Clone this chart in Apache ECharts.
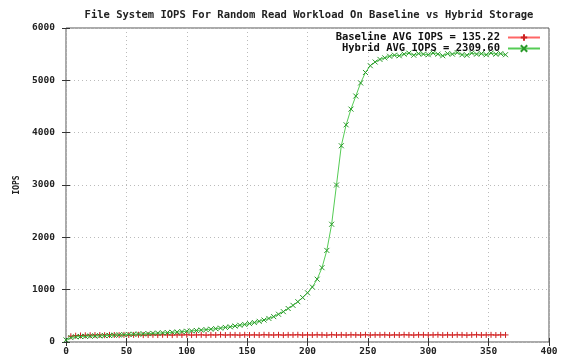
<!DOCTYPE html>
<html>
<head>
<meta charset="utf-8">
<script src="https://cdn.jsdelivr.net/npm/echarts@6/dist/echarts.min.js"></script>
<style>html,body{margin:0;padding:0;background:#fff}#c{width:563px;height:363px}</style>
</head>
<body>
<div id="c"></div>
<script>
const titleText = 'File System IOPS For Random Read Workload On Baseline vs Hybrid Storage';
const yName = 'IOPS';
const baselineName = 'Baseline AVG IOPS = 135.22';
const hybridName = 'Hybrid AVG IOPS = 2309.60';

const hybridX = [0,4,8,12,16,20,24,28,32,36,40,44,48,52,56,60,64,68,72,76,80,84,88,92,96,100,104,108,112,116,120,124,128,132,136,140,144,148,152,156,160,164,168,172,176,180,184,188,192,196,200,204,208,212,216,220,224,228,232,236,240,244,248,252,256,260,264,268,272,276,280,284,288,292,296,300,304,308,312,316,320,324,328,332,336,340,344,348,352,356,360,364];
const hybridY = [40,85,100,105,108,112,115,118,122,125,130,135,140,145,148,152,156,160,165,170,175,180,185,190,198,205,212,220,228,236,245,255,265,278,290,305,320,335,352,372,395,420,450,485,530,580,640,700,770,850,940,1050,1200,1420,1750,2250,3000,3750,4150,4450,4700,4950,5150,5280,5350,5400,5430,5460,5480,5470,5500,5520,5480,5510,5500,5490,5520,5500,5470,5510,5500,5530,5490,5480,5520,5500,5510,5490,5520,5500,5510,5490];

const baselineX = [4,8,12,16,20,24,28,32,36,40,44,48,52,56,60,64,68,72,76,80,84,88,92,96,100,104,108,112,116,120,124,128,132,136,140,144,148,152,156,160,164,168,172,176,180,184,188,192,196,200,204,208,212,216,220,224,228,232,236,240,244,248,252,256,260,264,268,272,276,280,284,288,292,296,300,304,308,312,316,320,324,328,332,336,340,344,348,352,356,360,364];
const baselineY = [110,120,125,128,130,132,133,130,135,134,131,136,133,135,138,132,134,136,133,137,135,132,136,134,138,133,135,137,132,136,134,139,133,136,135,132,137,134,136,133,138,135,134,137,132,136,135,138,133,136,134,137,135,132,138,134,136,133,137,135,134,138,133,136,135,137,132,136,134,138,135,133,137,136,134,135,138,133,136,134,137,135,132,136,138,134,135,137,133,136,135];

const xTicks = {min: 0, max: 400, interval: 50};
const yTicks = {min: 0, max: 6000, interval: 1000};

const font = 'DejaVu Sans Mono';
const plusPath = 'path://M0,5L10,5M5,0L5,10';
const crossPath = 'path://M0,0L10,10M10,0L0,10';

const chart = echarts.init(document.getElementById('c'));
const gridLine = {show: true, lineStyle: {color: '#bbbbbb', type: [1, 3], width: 1}};
chart.setOption({
  animation: false,
  backgroundColor: '#ffffff',
  title: {
    text: titleText, left: 304, top: 5, textAlign: 'center',
    textStyle: {fontFamily: font, fontSize: 10.5, fontWeight: 'bold', color: '#222'}
  },
  legend: {
    right: 22, top: 32, orient: 'vertical', align: 'right', itemGap: 0, padding: 0,
    itemWidth: 32, itemHeight: 8,
    textStyle: {fontFamily: font, fontSize: 10.5, lineHeight: 10, fontWeight: 'bold', color: '#111', padding: [0, 3, 0, 0]},
    data: [baselineName, hybridName]
  },
  grid: {left: 66, right: 14, top: 28, bottom: 21, show: true, borderColor: '#555', borderWidth: 1},
  xAxis: [{
    type: 'value', min: xTicks.min, max: xTicks.max, interval: xTicks.interval,
    axisLine: {show: false}, axisTick: {show: true, inside: true, length: 4, lineStyle: {color: '#333'}},
    axisLabel: {fontFamily: font, fontSize: 9.5, fontWeight: 'bold', color: '#222', margin: 5,
      formatter: v => String(v)},
    splitLine: gridLine
  }, {
    type: 'value', position: 'top', min: xTicks.min, max: xTicks.max, interval: xTicks.interval,
    axisLine: {show: false}, axisTick: {show: true, inside: true, length: 4, lineStyle: {color: '#333'}},
    axisLabel: {show: false}, splitLine: {show: false}
  }],
  yAxis: [{
    type: 'value', min: yTicks.min, max: yTicks.max, interval: yTicks.interval,
    name: yName, nameLocation: 'middle', nameGap: 44, nameRotate: 90,
    nameTextStyle: {fontFamily: font, fontSize: 8, fontWeight: 'bold', color: '#222'},
    axisLine: {show: false}, axisTick: {show: true, inside: true, length: 4, lineStyle: {color: '#333'}},
    axisLabel: {fontFamily: font, fontSize: 9.5, fontWeight: 'bold', color: '#222', margin: 11,
      formatter: v => String(v)},
    splitLine: gridLine
  }, {
    type: 'value', position: 'right', min: yTicks.min, max: yTicks.max, interval: yTicks.interval,
    axisLine: {show: false}, axisTick: {show: true, inside: true, length: 4, lineStyle: {color: '#333'}},
    axisLabel: {show: false}, splitLine: {show: false}
  }],
  series: [{
    name: baselineName, type: 'line',
    data: baselineX.map((x, i) => [x, baselineY[i]]),
    symbol: plusPath, symbolSize: 6, showSymbol: true,
    lineStyle: {color: '#ff6666', width: 1},
    itemStyle: {color: '#cc2222', borderColor: '#cc2222', borderWidth: 1},
    z: 2
  }, {
    name: hybridName, type: 'line',
    data: hybridX.map((x, i) => [x, hybridY[i]]),
    symbol: crossPath, symbolSize: 5, showSymbol: true,
    lineStyle: {color: '#55cc55', width: 1},
    itemStyle: {color: '#2a9a2a', borderColor: '#2a9a2a', borderWidth: 1},
    z: 3
  }]
});
</script>
</body>
</html>
